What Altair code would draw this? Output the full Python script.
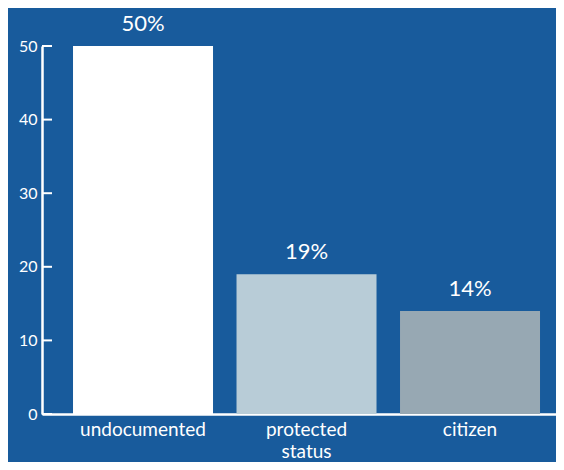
import altair as alt
import pandas as pd

categories = ["undocumented", "protected status", "citizen"]
values = [50, 19, 14]
labels = ["50%", "19%", "14%"]
colors = ["#ffffff", "#b8ccd7", "#97a8b3"]
yticks = [0, 10, 20, 30, 40, 50]

df = pd.DataFrame({"cat": categories, "value": values, "label": labels})
tick_df = pd.DataFrame({"t": yticks})

FONT = "Lato"
BG = "#185b9c"

xenc = alt.X(
    "cat:N",
    sort=categories,
    scale=alt.Scale(paddingInner=0.1437, paddingOuter=0.1437, align=0.66),
    axis=alt.Axis(
        title=None,
        labelAngle=0,
        ticks=False,
        domainColor="white",
        domainWidth=2.5,
        labelColor="white",
        labelFontSize=19,
        labelFont=FONT,
        labelPadding=6,
        labelLineHeight=22,
        labelExpr="split(datum.label, ' ')",
    ),
)

yscale = alt.Scale(domain=[0, 50], nice=False)

bars = alt.Chart(df).mark_bar().encode(
    x=xenc,
    y=alt.Y(
        "value:Q",
        scale=yscale,
        axis=alt.Axis(
            title=None,
            values=yticks,
            ticks=False,
            grid=False,
            domainColor="white",
            domainWidth=2.5,
            labelColor="white",
            labelFontSize=16,
            labelFont=FONT,
            labelPadding=5,
        ),
    ),
    color=alt.Color("cat:N", scale=alt.Scale(domain=categories, range=colors), legend=None),
)

text = alt.Chart(df).mark_text(
    dy=-22, fontSize=22, color="white", font=FONT, baseline="middle"
).encode(
    x=alt.X("cat:N", sort=categories),
    y=alt.Y("value:Q"),
    text="label:N",
)

ticks = alt.Chart(tick_df).mark_rule(color="white", strokeWidth=2).encode(
    y=alt.Y("t:Q"),
    x=alt.value(0),
    x2=alt.value(10),
)

chart = (
    alt.layer(bars, text, ticks)
    .properties(
        width=514,
        height=368,
        background=BG,
        padding={"left": 34, "top": 38, "right": 0, "bottom": 48},
        autosize=alt.AutoSizeParams(type="none"),
    )
    .configure_view(strokeWidth=0)
)

chart.save("out.html", embed_options={"renderer": "svg", "actions": False})
